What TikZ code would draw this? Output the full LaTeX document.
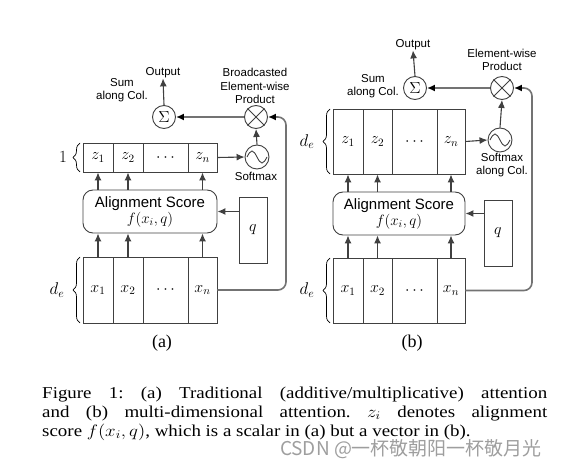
\documentclass[tikz,border=0pt]{standalone}
\usepackage{fix-cm}
\usepackage[no-math]{fontspec}
\setmainfont{Liberation Serif}
\setsansfont{Liberation Sans}
\newfontfamily\cjk{Noto Sans CJK SC}
\usepackage{tikz}
\usetikzlibrary{arrows.meta, positioning, decorations.pathreplacing, calc}
\definecolor{lncol}{gray}{0.25}
\definecolor{grcol}{gray}{0.45}
\definecolor{wmcol}{gray}{0.62}

\begin{document}
\begin{tikzpicture}[x=1pt, y=-1pt,
    cell/.style={draw=lncol, line width=0.9pt, minimum height=29pt, inner sep=0pt, font=\fontsize{16}{18}\selectfont},
    score/.style={draw=lncol, line width=0.9pt, rounded corners=10pt, minimum height=43pt, align=center, inner sep=0pt, font=\fontsize{15}{15}\sffamily\selectfont},
    opcirc/.style={circle, draw=lncol, line width=0.9pt, minimum size=23pt, inner sep=0pt, font=\fontsize{16}{18}\selectfont},
    conn/.style={draw=lncol, line width=1.1pt, -{Latex[length=8pt, width=7pt]}},
    gconn/.style={conn, draw=grcol, line width=1.6pt, -{Latex[length=8pt, width=7pt, color=black]}},
    lbl/.style={font=\fontsize{11.5}{13.5}\sffamily\selectfont, align=center, inner sep=0pt},
    brc/.style={draw=black, decorate, decoration={brace, amplitude=7pt}, line width=0.7pt},
    mlbl/.style={font=\fontsize{17}{19}\selectfont, inner sep=0pt},
    panlbl/.style={font=\fontsize{18}{21}\selectfont, inner sep=0pt}
  ]
  \useasboundingbox (0,0) rectangle (563,468);

  % (a) traditional attention
  \node[cell, minimum width=30pt, minimum height=66pt] (ax1) at (98,290) {$x_1$};
  \node[cell, minimum width=30pt, minimum height=66pt] (ax2) at (128,290) {$x_2$};
  \node[cell, minimum width=45pt, minimum height=66pt] (axd) at (165.5,290) {$\cdots$};
  \node[cell, minimum width=29pt, minimum height=66pt] (axn) at (202.5,290) {$x_n$};
  \node[cell, minimum width=30pt] (az1) at (98,157.5) {$z_1$};
  \node[cell, minimum width=30pt] (az2) at (128,157.5) {$z_2$};
  \node[cell, minimum width=45pt] (azd) at (165.5,157.5) {$\cdots$};
  \node[cell, minimum width=29pt] (azn) at (202.5,157.5) {$z_n$};
  \node[score, minimum width=134pt] (aalign) at (150,211.5) {Alignment Score\\[1pt]$f(x_i,q)$};
  \node[cell, minimum width=28pt, minimum height=66pt] (aq) at (253,230) {$q$};
  \node[opcirc] (asum) at (164,117) {$\Sigma$};
  \node[opcirc] (aprod) at (256,117) {};
  \draw[lncol, line width=0.9pt] (aprod.north west) -- (aprod.south east) (aprod.north east) -- (aprod.south west);
  \node[opcirc, minimum size=24pt] (asoft) at (257,157) {};
  \draw[lncol, line width=0.9pt, shift={(asoft.center)}] (-10,0) sin (-5,-6) cos (0,0) sin (5,6) cos (10,0);
  \node[lbl] (aout) at (163,73) {Output};
  \node[lbl] (asumtxt) at (122,90) {Sum\\along Col.};
  \node[lbl] (aprodtxt) at (255,86) {Broadcasted\\Element-wise\\Product};
  \node[lbl] (asofttxt) at (256,176) {Softmax};
  \draw[conn] (asum.north) -- (aout.south);
  \draw[gconn] (aprod.west) -- (asum.east);
  \draw[conn] (asoft.north) -- (aprod.south);
  \draw[conn] (azn.east) -- (asoft.west);
  \draw[conn] (aq.west |- aalign.east) -- (aalign.east);
  \draw[conn] (ax1.north) -- (ax1.north |- aalign.south);
  \draw[conn] (ax2.north) -- (ax2.north |- aalign.south);
  \draw[conn] (axn.north) -- (axn.north |- aalign.south);
  \draw[conn] (az1.south |- aalign.north) -- (az1.south);
  \draw[conn] (az2.south |- aalign.north) -- (az2.south);
  \draw[conn] (azn.south |- aalign.north) -- (azn.south);
  \coordinate (aturn) at (286,117);
  \draw[gconn, rounded corners=8pt] (axn.east) -| (aturn) -- (aprod.east);
  \draw[brc] (80,172) -- (80,143);
  \node[mlbl] (aone) at (63,157.5) {$1$};
  \draw[brc] (80,323) -- (80,257);
  \node[mlbl] (ade) at (57,290) {$d_e$};
  \node[panlbl] (apanel) at (162,343) {(a)};

  % (b) multi-dimensional attention
  \node[cell, minimum width=30pt, minimum height=65pt] (bx1) at (348,290.5) {$x_1$};
  \node[cell, minimum width=29pt, minimum height=65pt] (bx2) at (377.5,290.5) {$x_2$};
  \node[cell, minimum width=45pt, minimum height=65pt] (bxd) at (414.5,290.5) {$\cdots$};
  \node[cell, minimum width=28pt, minimum height=65pt] (bxn) at (451,290.5) {$x_n$};
  \node[cell, minimum width=30pt, minimum height=65pt] (bz1) at (348,141.5) {$z_1$};
  \node[cell, minimum width=29pt, minimum height=65pt] (bz2) at (377.5,141.5) {$z_2$};
  \node[cell, minimum width=45pt, minimum height=65pt] (bzd) at (414.5,141.5) {$\cdots$};
  \node[cell, minimum width=28pt, minimum height=65pt] (bzn) at (451,141.5) {$z_n$};
  \node[score, minimum width=132pt] (balign) at (399,213.5) {Alignment Score\\[1pt]$f(x_i,q)$};
  \node[cell, minimum width=28pt, minimum height=66pt] (bq) at (498,233) {$q$};
  \node[opcirc] (bsum) at (415,88) {$\Sigma$};
  \node[opcirc] (bprod) at (502,88) {};
  \draw[lncol, line width=0.9pt] (bprod.north west) -- (bprod.south east) (bprod.north east) -- (bprod.south west);
  \node[opcirc, minimum size=24pt] (bsoft) at (500,140) {};
  \draw[lncol, line width=0.9pt, shift={(bsoft.center)}] (-10,0) sin (-5,-6) cos (0,0) sin (5,6) cos (10,0);
  \node[lbl] (bout) at (413,45) {Output};
  \node[lbl] (bsumtxt) at (373,86) {Sum\\along Col.};
  \node[lbl] (bprodtxt) at (502,60) {Element-wise\\Product};
  \node[lbl] (bsofttxt) at (502,165) {Softmax\\along Col.};
  \draw[conn] (bsum.north) -- (bout.south);
  \draw[gconn] (bprod.west) -- (bsum.east);
  \draw[conn] (bsoft.north) -- (bprod.south);
  \draw[conn] (bzn.east) -- (bsoft.west);
  \draw[conn] (bq.west |- balign.east) -- (balign.east);
  \draw[conn] (bx1.north) -- (bx1.north |- balign.south);
  \draw[conn] (bx2.north) -- (bx2.north |- balign.south);
  \draw[conn] (bxn.north) -- (bxn.north |- balign.south);
  \draw[conn] (bz1.south |- balign.north) -- (bz1.south);
  \draw[conn] (bz2.south |- balign.north) -- (bz2.south);
  \draw[conn] (bzn.south |- balign.north) -- (bzn.south);
  \coordinate (bturn) at (532,88);
  \draw[gconn, rounded corners=8pt] (bxn.east) -| (bturn) -- (bprod.east);
  \draw[brc] (330,174) -- (330,109);
  \node[mlbl] (bdez) at (307,141.5) {$d_e$};
  \draw[brc] (330,323) -- (330,258);
  \node[mlbl] (bdex) at (307,290) {$d_e$};
  \node[panlbl] (bpanel) at (412,343) {(b)};

  % caption and watermark
  \coordinate (capnw) at (42,386.5);
  \node[anchor=north west, inner sep=0pt, xscale=1.14, transform shape, text width=443pt, align=justify,
    font=\fontsize{16.6}{19}\selectfont] (caption) at (capnw)
    {\hbadness=10000 \frenchspacing Figure 1: (a) Traditional (additive/multiplicative) attention\linebreak
     and (b) multi-dimensional attention. $z_i$ denotes alignment\linebreak
     score $f(x_i, q)$, which is a scalar in (a) but a vector in (b).};
  \node[text=wmcol, inner sep=0pt, font=\fontsize{19}{22}\cjk] (wmark) at (411,449) {CSDN @一杯敬朝阳一杯敬月光};
\end{tikzpicture}
\end{document}
